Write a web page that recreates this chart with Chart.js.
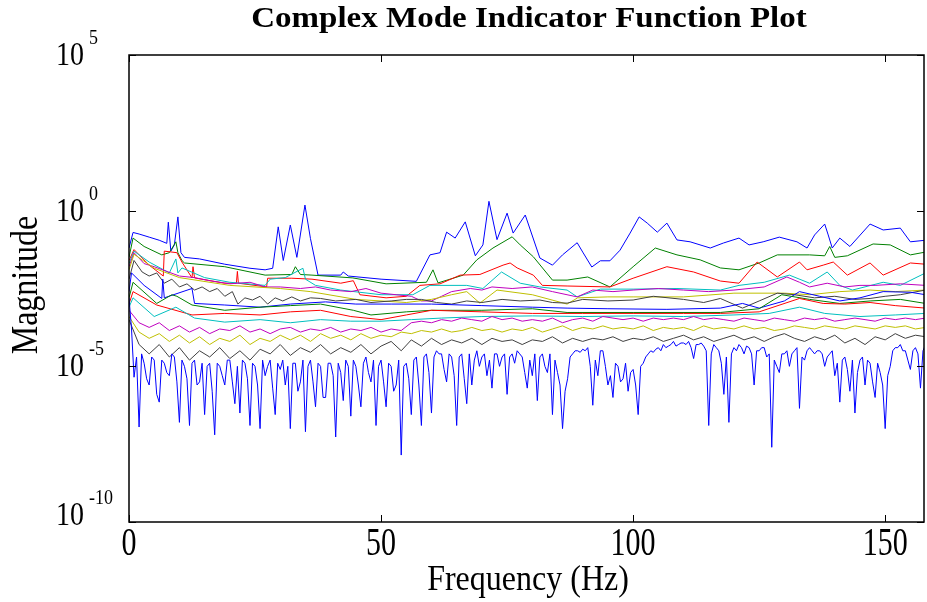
<!DOCTYPE html>
<html>
<head>
<meta charset="utf-8">
<script src="https://cdn.jsdelivr.net/npm/chart.js@4.4.0/dist/chart.umd.min.js"></script>
<style>
  html, body { margin: 0; padding: 0; background: #fff; }
  #wrap { width: 927px; height: 602px; }
</style>
</head>
<body>
<div id="wrap"><canvas id="cmif"></canvas></div>
<script>
// CMIF curves, values are log10(magnitude)

// tick labels
const xTicks = [0, 50, 100, 150];
const yTickExps = [-10, -5, 0, 5];

// 1st singular value (blue)
const freqS1 = [0, 0.8, 2, 4, 6, 7.5, 7.8, 8.3, 9, 9.7, 10.3, 11, 14, 19, 24, 27, 28.5, 29.6, 30.6, 32, 33.3, 34.9, 36, 37.5, 42, 42.5, 43.5, 50, 57, 59.7, 61.7, 63, 64.7, 66.7, 68.7, 70.2, 71.4, 73, 75, 76.2, 78.6, 81.5, 84, 86, 88.9, 90, 91.8, 93.5, 95.4, 97.4, 99.4, 101.2, 102.8, 104.8, 106.7, 108.7, 111.3, 115.3, 117.9, 121, 123, 125.8, 129, 132.5, 134.5, 136, 138, 138.7, 139.5, 141, 143, 147, 149.6, 153, 155, 158];
const magS1 = [-1.2, -0.7, -0.75, -0.85, -0.95, -1.05, -0.37, -1.3, -1.1, -0.2, -1.35, -1.5, -1.55, -1.72, -1.85, -1.9, -1.85, -0.52, -1.6, -0.46, -1.5, 0.18, -0.9, -2.07, -2.07, -1.97, -2.1, -2.2, -2.27, -1.42, -1.35, -0.69, -0.88, -0.36, -1.45, -1.1, 0.3, -0.93, -0.08, -0.72, -0.14, -1.52, -1.75, -1.42, -1.03, -1.33, -1.81, -1.61, -1.61, -1.27, -0.72, -0.2, -0.4, -0.69, -0.4, -0.94, -1.0, -1.2, -1.04, -0.88, -1.1, -1.0, -0.85, -1.0, -1.2, -0.78, -0.43, -0.78, -1.2, -0.88, -1.15, -0.43, -0.62, -0.56, -1.0, -0.95];

// 2nd (green)
const freqS2 = [0, 0.8, 3, 6.5, 8, 9.3, 9.7, 10.5, 11, 19, 27, 32.3, 33, 34, 36.3, 44.4, 51, 59, 60.3, 61.3, 66.3, 69, 72.2, 76, 77.6, 80.2, 84, 86.9, 91, 95.4, 100, 104.4, 108.7, 113.3, 117.3, 121, 125, 128.6, 135, 138, 139, 140, 142.5, 147.6, 151, 155, 158];
const magS2 = [-1.5, -0.88, -1.15, -1.42, -1.35, -1.0, -1.35, -1.6, -1.68, -1.8, -2.07, -2.05, -1.8, -2.05, -2.07, -2.16, -2.35, -2.3, -1.9, -2.32, -2.07, -1.58, -1.2, -0.84, -1.1, -1.48, -2.23, -2.23, -2.13, -2.45, -1.8, -1.2, -1.42, -1.58, -1.84, -1.9, -1.68, -1.42, -1.42, -1.45, -1.15, -1.5, -1.45, -1.07, -1.1, -1.42, -1.33];

// 3rd (red)
const freqS3 = [0, 1, 4, 6.8, 7, 9.5, 10.5, 12.5, 12.7, 13, 19, 21.3, 21.5, 21.7, 27.3, 27.5, 32.3, 36.3, 42, 44.5, 45.8, 51, 55, 57.7, 61.7, 65.7, 69.6, 74.2, 75.6, 77, 80.2, 82, 86.9, 95.4, 100, 106.7, 112, 117.3, 121, 124.6, 128.6, 133, 134.5, 137.7, 139.7, 142.5, 147, 149.6, 155, 158];
const magS3 = [-1.6, -1.25, -1.75, -2.1, -1.3, -1.35, -1.65, -2.16, -1.8, -2.16, -2.33, -2.33, -1.95, -2.33, -2.45, -2.17, -2.17, -2.2, -2.33, -2.25, -2.7, -2.8, -2.75, -2.4, -2.35, -2.07, -2.05, -1.75, -1.68, -1.84, -2.07, -2.4, -2.42, -2.45, -2.17, -1.8, -1.97, -2.26, -2.33, -1.65, -2.13, -1.65, -1.9, -1.75, -1.65, -2.07, -1.68, -2.07, -1.68, -1.72];

// 4th (cyan)
const freqS4 = [0, 1, 4, 8, 9.3, 9.7, 10.5, 15, 20, 27, 28, 31, 34.5, 35, 37, 42, 50, 56.3, 59.7, 67, 70.2, 73.9, 77.6, 81.5, 86.9, 88.9, 93.5, 100, 108.7, 117.3, 121, 126, 131, 135, 138.5, 141, 143.5, 149.6, 153, 158];
const magS4 = [-1.7, -1.3, -1.65, -2.0, -1.55, -2.0, -1.84, -2.15, -2.3, -2.4, -2.2, -2.15, -1.85, -2.2, -2.4, -2.55, -2.7, -2.7, -2.4, -2.4, -2.5, -1.97, -2.33, -2.45, -2.55, -2.77, -2.52, -2.52, -2.5, -2.55, -2.4, -2.3, -2.07, -2.33, -1.97, -2.4, -2.55, -2.3, -2.4, -2.0];

// 5th (magenta)
const freqS5 = [0, 1, 3, 5, 7.5, 10, 13, 16, 20, 24, 27, 30, 34, 37, 40, 44, 47, 50, 53, 56, 58, 60, 62, 64, 67.7, 70, 72, 76, 80, 84, 88.9, 92, 96, 100, 105, 110, 115, 120, 126, 130.5, 133, 135, 138.5, 142, 145, 148, 153, 158];
const magS5 = [-1.8, -1.35, -1.7, -1.8, -1.95, -2.1, -2.15, -2.25, -2.35, -2.3, -2.45, -2.45, -2.5, -2.45, -2.55, -2.6, -2.5, -2.65, -2.7, -2.75, -2.9, -2.9, -2.75, -2.6, -2.5, -2.55, -2.45, -2.5, -2.45, -2.6, -2.77, -2.55, -2.6, -2.55, -2.5, -2.55, -2.6, -2.55, -2.45, -2.13, -2.3, -2.45, -2.33, -2.45, -2.4, -2.4, -2.35, -2.4];

// 6th (yellow)
const freqS6 = [0, 1, 5, 10, 20, 30, 36, 45, 55, 60, 64, 67, 69.6, 73, 80, 86.9, 89, 95, 100, 110, 120, 130, 135, 141, 147, 152, 158];
const magS6 = [-1.9, -1.4, -1.85, -2.15, -2.4, -2.5, -2.6, -2.85, -2.95, -2.85, -2.7, -2.6, -2.97, -2.55, -2.7, -3.0, -2.8, -2.77, -2.77, -2.77, -2.65, -2.65, -2.7, -2.6, -2.55, -2.6, -2.55];

// 7th (black)
const freqS7 = [0, 1, 2.6, 4, 5.5, 7, 8.5, 10, 11.5, 13, 14.5, 16, 17.5, 19, 20.5, 21.6, 23, 24.5, 26, 27.5, 29, 30.5, 32.3, 34, 36, 38, 41, 45, 48, 52, 55, 58, 61, 64, 67, 70, 74, 77.6, 81.5, 84, 86.9, 90, 95, 100, 104, 110, 114, 117.3, 121.7, 125, 128.6, 132, 136, 140, 144, 147, 150, 153, 158];
const magS7 = [-2.2, -1.6, -1.97, -2.1, -2.0, -2.33, -2.2, -2.45, -2.35, -2.55, -2.45, -2.6, -2.5, -2.75, -2.6, -3.0, -2.8, -2.87, -2.75, -3.0, -2.8, -2.9, -2.77, -2.9, -2.8, -2.82, -2.9, -2.85, -2.95, -2.9, -2.85, -2.85, -2.95, -3.0, -2.9, -2.95, -2.85, -2.9, -2.87, -2.95, -2.97, -2.85, -2.9, -2.87, -2.75, -2.85, -2.95, -2.82, -3.13, -2.9, -2.65, -2.7, -2.8, -2.75, -2.85, -2.82, -2.75, -2.7, -2.55];

// 8th (blue)
const freqS8 = [0, 0.5, 3, 6.5, 6.7, 7, 12.5, 13, 19, 26, 32, 39, 45, 52, 60, 70, 80, 86.9, 95, 106.7, 117.3, 121.7, 125, 130, 133, 137, 141, 145, 149.6, 155, 158];
const magS8 = [-2.6, -2.0, -2.4, -2.82, -2.2, -2.8, -2.5, -2.98, -3.03, -3.1, -3.0, -2.93, -3.0, -3.0, -3.0, -3.05, -3.1, -3.13, -3.15, -3.17, -3.13, -2.98, -3.13, -2.9, -2.6, -2.75, -2.9, -2.8, -2.6, -2.62, -2.7];

// 9th (green)
const freqS9 = [0, 0.8, 5.5, 8.5, 9.5, 12.5, 19, 26, 32, 38, 44.5, 48, 55, 60, 70, 80, 86.9, 100, 117.3, 125, 129.5, 135, 141, 147, 153, 158];
const magS9 = [-2.8, -2.3, -2.98, -2.7, -2.75, -3.03, -3.2, -3.1, -3.05, -3.0, -3.2, -3.35, -3.25, -3.2, -3.2, -3.15, -3.27, -3.27, -3.27, -3.15, -2.7, -2.85, -2.98, -2.9, -2.85, -2.98];

// 10th (red)
const freqS10 = [0, 0.8, 5.5, 12.5, 19, 26, 32, 38, 44, 50, 55, 60, 70, 80, 90, 100, 110, 117.3, 125, 133, 137.7, 142, 147, 152, 158];
const magS10 = [-3.0, -2.6, -3.03, -3.35, -3.3, -3.35, -3.25, -3.2, -3.4, -3.5, -3.35, -3.2, -3.25, -3.3, -3.3, -3.3, -3.3, -3.3, -3.25, -2.82, -2.98, -3.0, -2.95, -3.05, -3.13];

// 11th (cyan)
const freqS11 = [0, 0.8, 5, 9.3, 13, 19, 26, 32, 38, 44, 50, 56, 62, 70, 80, 90, 100, 110, 120, 127, 133, 138, 145, 152, 158];
const magS11 = [-3.1, -2.8, -3.4, -3.1, -3.45, -3.58, -3.5, -3.6, -3.5, -3.55, -3.55, -3.5, -3.45, -3.4, -3.38, -3.4, -3.38, -3.4, -3.35, -3.3, -3.1, -3.3, -3.4, -3.35, -3.3];

// noisy lower curves, sampled every 2 Hz
const freqCoarse = Array.from({ length: 80 }, (_, i) => i * 2);
const magS12 = [-3.2, -3.6, -3.75, -3.6, -3.85, -3.7, -3.9, -3.75, -3.95, -3.8,
  -3.85, -3.7, -3.9, -3.8, -3.95, -3.8, -3.75, -3.9, -3.8, -3.85,
  -3.75, -3.9, -3.8, -3.85, -3.75, -3.9, -3.8, -3.85, -3.6, -3.55,
  -3.6, -3.5, -3.55, -3.45, -3.5, -3.55, -3.4, -3.5, -3.45, -3.55,
  -3.5, -3.55, -3.45, -3.6, -3.5, -3.45, -3.55, -3.4, -3.45, -3.5,
  -3.45, -3.55, -3.45, -3.5, -3.45, -3.5, -3.4, -3.5, -3.45, -3.5,
  -3.55, -3.45, -3.5, -3.55, -3.45, -3.5, -3.55, -3.45, -3.5, -3.45,
  -3.55, -3.5, -3.45, -3.5, -3.55, -3.45, -3.5, -3.45, -3.5, -3.45];
const magS13 = [-3.4, -3.9, -4.1, -3.95, -4.2, -4.0, -4.25, -4.05, -4.3, -4.1,
  -4.2, -4.0, -4.3, -4.1, -4.2, -4.0, -4.15, -4.0, -4.2, -3.95,
  -4.1, -4.0, -4.15, -3.95, -4.1, -4.0, -4.05, -3.9, -3.95, -3.85,
  -3.9, -3.8, -3.9, -3.85, -3.75, -3.85, -3.8, -3.9, -3.8, -3.85,
  -3.75, -3.9, -3.8, -3.7, -3.85, -3.75, -3.8, -3.7, -3.8, -3.75,
  -3.8, -3.7, -3.85, -3.75, -3.8, -3.75, -3.85, -3.7, -3.8, -3.75,
  -3.8, -3.7, -3.8, -3.75, -3.85, -3.8, -3.7, -3.75, -3.8, -3.7,
  -3.75, -3.8, -3.7, -3.75, -3.8, -3.7, -3.75, -3.7, -3.8, -3.75];
const magS14 = [-3.5, -4.3, -4.6, -4.3, -4.7, -4.4, -4.8, -4.5, -4.7, -4.4,
  -4.75, -4.5, -4.8, -4.45, -4.6, -4.3, -4.65, -4.4, -4.55, -4.3,
  -4.6, -4.4, -4.55, -4.3, -4.6, -4.35, -4.2, -4.5, -4.15, -4.35,
  -4.1, -4.3, -4.15, -4.25, -4.1, -4.3, -4.1, -4.2, -4.15, -4.3,
  -4.15, -4.2, -4.05, -4.25, -4.1, -4.2, -4.1, -4.15, -4.05, -4.2,
  -4.1, -4.15, -4.05, -4.2, -4.1, -4.0, -4.15, -4.05, -4.2, -4.1,
  -4.0, -4.15, -4.05, -4.2, -4.05, -3.95, -4.1, -4.2, -4.05, -4.15,
  -4.0, -4.25, -4.1, -4.3, -4.05, -4.15, -3.95, -4.1, -4.0, -4.05];

// lowest curve (blue), every 0.5 Hz, one row per 10 Hz
const freqHalf = Array.from({ length: 317 }, (_, i) => i * 0.5);
const magS15 = [
  -2.8, -3.8, -5.35, -4.7, -6.95, -4.6, -4.9, -5.4, -5.6, -4.7, -4.8, -5.9, -6.15, -4.8, -4.9, -5.2, -5.3, -4.6, -4.7, -5.5,
  -6.8, -4.8, -5.0, -5.4, -6.9, -4.9, -4.8, -5.6, -5.5, -4.9, -6.55, -5.0, -4.9, -5.8, -7.2, -4.9, -5.0, -5.3, -5.6, -4.8,
  -4.8, -5.5, -6.2, -5.0, -6.5, -4.8, -4.9, -5.4, -6.9, -4.9, -5.0, -5.6, -7.0, -4.8, -5.3, -5.0, -4.8, -5.7, -6.55, -4.9,
  -5.1, -4.8, -5.6, -5.0, -7.0, -4.9, -4.9, -5.8, -5.5, -4.8, -7.1, -5.0, -4.8, -5.5, -6.3, -4.9, -5.0, -6.0, -6.0, -4.9,
  -4.9, -5.3, -7.27, -4.9, -5.2, -6.1, -4.8, -5.0, -6.6, -4.8, -5.0, -5.6, -6.3, -4.9, -4.7, -5.2, -5.5, -4.8, -6.9, -5.0,
  -4.8, -5.5, -6.3, -4.9, -5.0, -5.8, -5.6, -4.8, -7.85, -5.0, -4.9, -5.4, -6.55, -4.8, -4.7, -5.6, -6.9, -4.7, -4.6, -5.2,
  -6.5, -4.7, -4.5, -4.6, -4.6, -5.1, -5.5, -4.6, -4.7, -5.3, -6.9, -4.7, -4.6, -5.4, -6.2, -4.6, -5.6, -4.8, -4.5, -5.0,
  -4.7, -4.6, -5.3, -4.8, -5.7, -4.6, -4.6, -5.0, -4.7, -4.6, -5.9, -4.7, -4.6, -4.9, -4.5, -4.6, -4.7, -5.2, -5.7, -4.8,
  -5.3, -4.6, -6.1, -4.7, -4.6, -5.0, -5.2, -4.6, -6.55, -4.8, -5.2, -5.6, -7.0, -5.8, -5.4, -4.7, -4.6, -4.5, -4.5, -4.55,
  -4.45, -4.5, -4.4, -5.0, -6.25, -4.8, -5.3, -4.5, -4.5, -5.0, -5.6, -5.3, -6.0, -4.9, -5.0, -5.5, -5.4, -4.9, -5.8, -5.2,
  -5.1, -5.6, -6.55, -5.0, -4.9, -4.7, -4.6, -4.5, -4.55, -4.45, -4.4, -4.5, -4.3, -4.4, -4.35, -4.3, -4.2, -4.35, -4.3, -4.25,
  -4.25, -4.3, -4.2, -4.4, -4.75, -4.3, -4.3, -4.25, -4.35, -4.5, -6.9, -4.6, -4.3, -4.4, -4.5, -4.9, -5.9, -4.7, -6.8, -4.6,
  -4.4, -4.5, -4.3, -4.4, -4.6, -4.35, -4.4, -4.6, -5.6, -4.5, -4.5, -4.4, -4.4, -4.7, -4.6, -7.6, -4.8, -5.0, -5.2, -4.6,
  -4.6, -4.5, -5.0, -4.6, -4.5, -4.4, -6.35, -4.7, -4.8, -4.5, -4.4, -4.5, -4.6, -4.5, -4.5, -4.6, -5.0, -4.7, -4.6, -4.5,
  -5.3, -4.9, -6.15, -4.8, -4.7, -5.1, -5.8, -4.8, -6.5, -5.2, -4.8, -4.7, -5.6, -4.8, -4.9, -5.5, -6.0, -4.9, -5.2, -5.6,
  -7.0, -5.3, -5.0, -4.5, -4.4, -4.4, -4.3, -4.5, -4.5, -4.8, -5.1, -4.5, -4.4, -4.6, -5.7, -4.5, -4.3];

// matlab default line colour order
const lineColors = ['#0000ff', '#008000', '#ff0000', '#00bfbf', '#bf00bf', '#bfbf00', '#404040'];

const curves = [
  [freqS1, magS1], [freqS2, magS2], [freqS3, magS3], [freqS4, magS4], [freqS5, magS5],
  [freqS6, magS6], [freqS7, magS7], [freqS8, magS8], [freqS9, magS9], [freqS10, magS10],
  [freqS11, magS11], [freqCoarse, magS12], [freqCoarse, magS13], [freqCoarse, magS14],
  [freqHalf, magS15]
];

const datasets = curves.map(function (c, i) {
  return {
    data: c[0].map(function (f, j) { return { x: f, y: Math.pow(10, c[1][j]) }; }),
    borderColor: lineColors[i % 7],
    borderWidth: 1,
    pointRadius: 0,
    tension: 0,
    fill: false,
    order: curves.length - i   // later curves on top, like matlab
  };
});

function drawText(ctx, txt, x, y, font, sx, sy, align) {
  ctx.save();
  ctx.translate(x, y);
  ctx.scale(sx, sy);
  ctx.font = font;
  ctx.textAlign = align;
  ctx.textBaseline = 'alphabetic';
  ctx.fillStyle = '#000';
  ctx.fillText(txt, 0, 0);
  ctx.restore();
}

/* axes box, inward ticks and labels drawn matlab style */
const matlabAxes = {
  id: 'matlabAxes',
  afterDraw(chart) {
    const ctx = chart.ctx;
    const a = chart.chartArea;
    const xs = chart.scales.x, ys = chart.scales.y;
    const serif = '"Liberation Serif", "Times New Roman", serif';

    ctx.save();
    ctx.strokeStyle = '#000';
    ctx.lineWidth = 1.5;
    ctx.strokeRect(a.left, a.top, a.right - a.left, a.bottom - a.top);

    ctx.lineWidth = 1;
    ctx.beginPath();
    xTicks.forEach(function (v) {
      const px = Math.round(xs.getPixelForValue(v)) + 0.5;
      ctx.moveTo(px, a.bottom); ctx.lineTo(px, a.bottom - 7);
      ctx.moveTo(px, a.top); ctx.lineTo(px, a.top + 7);
    });
    yTickExps.forEach(function (e) {
      const py = Math.round(ys.getPixelForValue(Math.pow(10, e))) + 0.5;
      ctx.moveTo(a.left, py); ctx.lineTo(a.left + 7, py);
      ctx.moveTo(a.right, py); ctx.lineTo(a.right - 7, py);
    });
    ctx.stroke();
    ctx.restore();

    xTicks.forEach(function (v) {
      drawText(ctx, String(v), xs.getPixelForValue(v), 555, '30px ' + serif, 1, 1.35, 'center');
    });
    yTickExps.forEach(function (e, i) {
      const py = ys.getPixelForValue(Math.pow(10, e));
      const base = py + (i === 0 ? 3 : 10);
      drawText(ctx, '10', 56, base, '28px ' + serif, 1, 1.2, 'left');
      drawText(ctx, e < 0 ? '-' + Math.abs(e) : String(e), 89, base - 21, '18px ' + serif, 1, 1.2, 'left');
    });

    drawText(ctx, 'Complex Mode Indicator Function Plot', 529, 27, 'bold 30px ' + serif, 1.1, 1, 'center');
    drawText(ctx, 'Frequency (Hz)', 528, 590, '32px ' + serif, 1, 1.15, 'center');

    ctx.save();
    ctx.translate(37, 285);
    ctx.rotate(-Math.PI / 2);
    drawText(ctx, 'Magnitude', 0, 0, '32px ' + serif, 1, 1.2, 'center');
    ctx.restore();
  }
};

new Chart(document.getElementById('cmif'), {
  type: 'line',
  data: { datasets },
  options: {
    responsive: true,
    maintainAspectRatio: false,
    animation: false,
    layout: { padding: { left: 129, top: 55, right: 3, bottom: 80 } },
    scales: {
      x: { type: 'linear', min: 0, max: 157.7, display: false },
      y: { type: 'logarithmic', min: 1e-10, max: 1e5, display: false }
    },
    plugins: { legend: { display: false }, tooltip: { enabled: false } }
  },
  plugins: [matlabAxes]
});
</script>
</body>
</html>
